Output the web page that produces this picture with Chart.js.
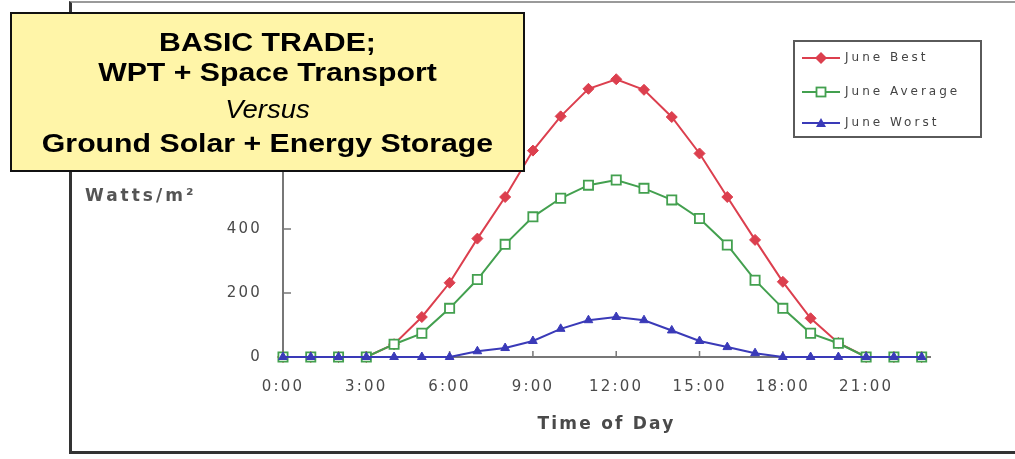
<!DOCTYPE html>
<html><head><meta charset="utf-8">
<script src="https://cdn.jsdelivr.net/npm/chart.js@4.4.0/dist/chart.umd.min.js"></script>
<style>
html,body{margin:0;padding:0;width:1015px;height:459px;overflow:hidden;background:#fff;}
#wrap{position:relative;width:1015px;height:459px;overflow:hidden;}
#c{position:absolute;left:0;top:0;}
#frame{position:absolute;left:69px;top:1px;width:1000px;height:453px;box-sizing:border-box;border-left:3px solid #333;border-bottom:3px solid #333;border-top:2px solid #9a9a9a;}
#ylab{position:absolute;left:85px;top:185px;font:bold 17px "DejaVu Sans";letter-spacing:3px;color:#555;white-space:nowrap;}
#legend{position:absolute;left:793px;top:40px;width:189px;height:98px;box-sizing:border-box;border:2px solid #5a5a5a;background:#fff;}
.li{position:absolute;left:5px;height:20px;width:180px;}
.li svg{position:absolute;left:0;top:0;}
.li span{position:absolute;left:45px;top:2px;font:12px "DejaVu Sans";letter-spacing:3px;color:#444;white-space:nowrap;}
#note{position:absolute;left:10px;top:12px;width:515px;height:160px;box-sizing:border-box;border:2px solid #111;background:#FFF5A8;}
.nl{position:absolute;left:0;width:511px;text-align:center;font:bold 25px "Liberation Sans",Arial,sans-serif;line-height:30px;color:#000;transform:scaleX(1.21);white-space:nowrap;}
.nl.it{font-weight:normal;font-style:italic;transform:scaleX(1.1);}
</style></head>
<body><div id="wrap">
<canvas id="c" width="1015" height="459"></canvas>
<div id="frame"></div>
<div id="ylab">Watts/m²</div>
<div id="legend">
 <div class="li" style="top:6px"><svg width="46" height="20"><line x1="2" y1="10" x2="40" y2="10" stroke="#dc3f4e" stroke-width="2"/><polygon points="21,4 27,10 21,16 15,10" fill="#dc3f4e"/></svg><span>June Best</span></div>
 <div class="li" style="top:40px"><svg width="46" height="20"><line x1="2" y1="10" x2="40" y2="10" stroke="#43a04f" stroke-width="2"/><rect x="16.5" y="5.5" width="9" height="9" fill="#fff" stroke="#43a04f" stroke-width="1.8"/></svg><span>June Average</span></div>
 <div class="li" style="top:71px"><svg width="46" height="20"><line x1="2" y1="10" x2="40" y2="10" stroke="#3a3ab8" stroke-width="2"/><polygon points="21,5 26,14 16,14" fill="#3a3ab8"/></svg><span>June Worst</span></div>
</div>
<div id="note">
 <div class="nl" style="top:13px">BASIC TRADE;</div>
 <div class="nl" style="top:43px">WPT + Space Transport</div>
 <div class="nl it" style="top:80px">Versus</div>
 <div class="nl" style="top:114px">Ground Solar + Energy Storage</div>
</div>
</div>
<script>
const hours = [0,1,2,3,4,5,6,7,8,9,10,11,12,13,14,15,16,17,18,19,20,21,22,23];
const juneBest = [0,0,0,0,40,125,232,370,500,645,752,838,868,835,750,636,500,366,235,121,44,0,0,0];
const juneAverage = [0,0,0,0,40,74,152,242,352,438,496,537,553,527,491,433,350,240,152,74,43,0,0,0];
const juneWorst = [0,0,0,0,0,0,0,18,28,50,88,115,125,115,83,50,31,12,0,0,0,0,0,0];
const xTickLabels = ['0:00','3:00','6:00','9:00','12:00','15:00','18:00','21:00'];
const seriesNames = ['June Best','June Average','June Worst'];

Chart.defaults.font.family = '"DejaVu Sans", sans-serif';
const pts = arr => hours.map((h,i)=>({x:h,y:arr[i]}));

const innerTicks = {
  id:'innerTicks',
  beforeDraw(chart){ chart.ctx.letterSpacing = '2.2px'; },
  beforeDatasetsDraw(chart){
    const {ctx, chartArea, scales:{x,y}} = chart;
    ctx.save();
    ctx.strokeStyle = '#777'; ctx.lineWidth = 1.5;
    ctx.beginPath();
    x.ticks.forEach(t=>{const p=x.getPixelForValue(t.value); ctx.moveTo(p,chartArea.bottom); ctx.lineTo(p,chartArea.bottom-6);});
    y.ticks.forEach(t=>{const p=y.getPixelForValue(t.value); ctx.moveTo(chartArea.left,p); ctx.lineTo(chartArea.left+8,p);});
    ctx.stroke();
    ctx.restore();
  }
};

new Chart(document.getElementById('c'), {
  type:'line',
  data:{datasets:[
    {label:seriesNames[0], data:pts(juneBest), borderColor:'#dc3f4e', backgroundColor:'#dc3f4e', pointBackgroundColor:'#dc3f4e', pointBorderColor:'#dc3f4e', pointStyle:'rectRot', pointRadius:5.5, pointBorderWidth:1, borderWidth:2, tension:0, clip:false, order:3},
    {label:seriesNames[1], data:pts(juneAverage), borderColor:'#43a04f', backgroundColor:'#fff', pointBackgroundColor:'#fff', pointBorderColor:'#43a04f', pointStyle:'rect', pointRadius:6.5, pointBorderWidth:1.8, borderWidth:2, tension:0, clip:false, order:2},
    {label:seriesNames[2], data:pts(juneWorst), borderColor:'#3a3ab8', backgroundColor:'#3a3ab8', pointBackgroundColor:'#3a3ab8', pointBorderColor:'#3a3ab8', pointStyle:'triangle', pointRadius:5, pointBorderWidth:1, borderWidth:2, tension:0, clip:false, order:1}
  ]},
  options:{
    responsive:false, animation:false, devicePixelRatio:1,
    layout:{padding:{top:37,right:85,left:0,bottom:0}},
    plugins:{legend:{display:false}, tooltip:{enabled:false}},
    scales:{
      x:{type:'linear', min:0, max:23.3,
        afterFit(s){ s.height = 102; },
        border:{display:true, color:'#777', width:2},
        grid:{display:false, drawTicks:false},
        ticks:{stepSize:3, includeBounds:false, autoSkip:false, maxRotation:0, padding:21, color:'#4a4a4a', font:{size:15},
          callback:(v)=>xTickLabels[Math.round(v/3)]},
        title:{display:true, text:'Time of Day', color:'#4a4a4a', font:{size:17, weight:'bold'}, padding:{top:0,bottom:24}}
      },
      y:{min:0, max:1000,
        afterFit(s){ s.width = 283; },
        border:{display:true, color:'#777', width:2},
        grid:{display:false, drawTicks:false},
        ticks:{stepSize:200, padding:21, color:'#4a4a4a', font:{size:15}}
      }
    }
  },
  plugins:[innerTicks]
});
</script>
</body></html>
